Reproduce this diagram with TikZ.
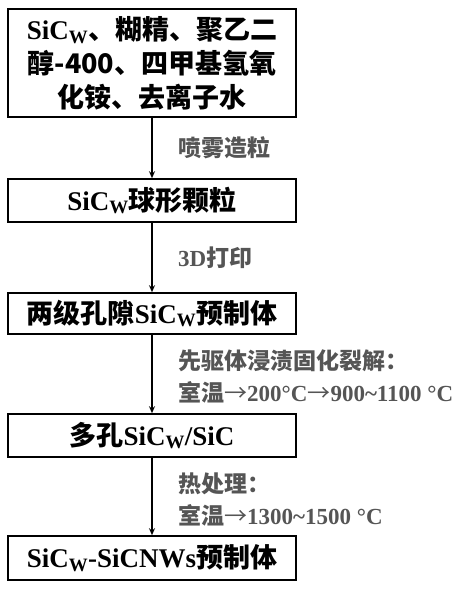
\documentclass[tikz,border=0pt]{standalone}
\usepackage{fontspec}
\setmainfont{Liberation Serif}
\newfontfamily\cjk{Noto Sans CJK SC}
\usetikzlibrary{arrows.meta}
\definecolor{labelgray}{RGB}{85,85,85}
\newcommand{\sicw}{SiC\textsubscript{W}}
\newcommand{\toarrow}{{\cjk\mdseries →}}

\begin{document}
\begin{tikzpicture}[x=1pt, y=-1pt, font=\bfseries]
	\tikzstyle{stageStyle}=[draw, line width=1.6pt, minimum width=288pt, inner sep=0pt, align=center, font=\fontsize{27}{34}\bfseries\selectfont]
	\tikzstyle{flowStyle}=[line width=1.3pt, -{Stealth[length=7pt, width=6pt]}]
	\tikzstyle{stepLabel}=[anchor=west, inner sep=0pt, align=left, text=labelgray, font=\fontsize{23}{32}\bfseries\selectfont]
	\useasboundingbox (0,0) rectangle (474,589);
	\node[stageStyle, minimum height=108pt] (raw) at (152,63) {\sicw{\cjk 、糊精、聚乙二}\\{\cjk 醇-400、四甲基氢氧}\\{\cjk 化铵、去离子水}};
	\node[stageStyle, minimum height=43pt] (granule) at (152,200.5) {\sicw{\cjk 球形颗粒}};
	\node[stageStyle, minimum height=41pt] (preform) at (152,313.5) {{\cjk 两级孔隙}\sicw{\cjk 预制体}};
	\node[stageStyle, minimum height=43pt] (porous) at (152,435.5) {{\cjk 多孔}\sicw/SiC};
	\node[stageStyle, minimum height=44pt] (final) at (152,558) {\sicw-SiCNWs{\cjk 预制体}};
	\draw[flowStyle] (raw) -- (granule);
	\draw[flowStyle] (granule) -- (preform);
	\draw[flowStyle] (preform) -- (porous);
	\draw[flowStyle] (porous) -- (final);
	\node[stepLabel] (spray) at (178,148) {{\cjk 喷雾造粒}};
	\node[stepLabel] (print) at (178,258) {3D{\cjk 打印}};
	\node[stepLabel] (pip) at (178,376) {{\cjk 先驱体浸渍固化裂解：}\\{\cjk 室温}\toarrow200°C\toarrow900\textasciitilde1100 °C};
	\node[stepLabel] (heat) at (178,499) {{\cjk 热处理：}\\{\cjk 室温}\toarrow1300\textasciitilde1500 °C};
\end{tikzpicture}
\end{document}
